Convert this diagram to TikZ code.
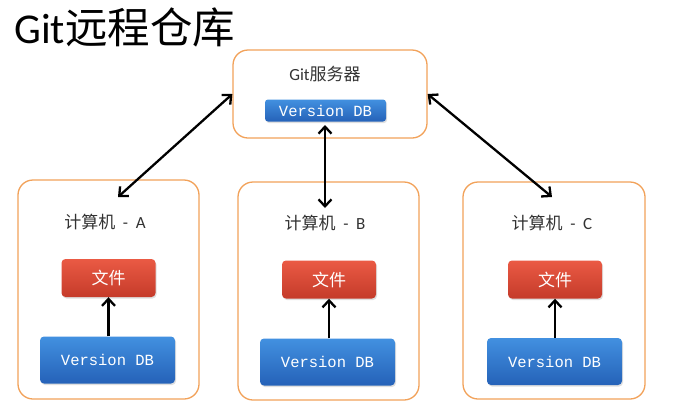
\documentclass[tikz,border=0pt]{standalone}
\usepackage{fontspec}
\setmainfont{Carlito}
\newfontfamily\cjk{Noto Sans CJK SC}
\newfontfamily\monof{Liberation Mono}
\usetikzlibrary{arrows.meta,shadows}
\definecolor{boxorange}{HTML}{F2A25A}
\definecolor{redtop}{HTML}{EA5A44}
\definecolor{redbot}{HTML}{C53B2A}
\definecolor{bluetop}{HTML}{4290E0}
\definecolor{bluebot}{HTML}{2562B8}
\definecolor{labelgray}{HTML}{333333}
\begin{document}
\begin{tikzpicture}[x=1pt,y=-1pt,
  frame/.style={draw=boxorange, line width=1.3pt, rounded corners=15pt, fill=white, inner sep=0pt},
  filebox/.style={rounded corners=4pt, top color=redtop, bottom color=redbot, draw=none,
    minimum width=94pt, minimum height=38pt, inner sep=0pt, text=white, font=\cjk\fontsize{17}{17}\selectfont,
    drop shadow={shadow xshift=1pt, shadow yshift=-1.5pt, opacity=0.25}},
  dbbox/.style={rounded corners=4pt, top color=bluetop, bottom color=bluebot, draw=none,
    minimum width=135pt, minimum height=47pt, inner sep=0pt, text=white, font=\monof\fontsize{15.5}{15.5}\selectfont,
    drop shadow={shadow xshift=1pt, shadow yshift=-1.5pt, opacity=0.25}},
  sdbbox/.style={dbbox, minimum width=121pt, minimum height=22pt, rounded corners=3pt},
  lbl/.style={text=labelgray, font=\fontsize{17}{17}\selectfont, inner sep=0pt},
  link/.style={black, line width=2.3pt, {Straight Barb[length=7pt,width=13pt]}-{Straight Barb[length=7pt,width=13pt]}},
  up/.style={black, line width=2.3pt, -{Straight Barb[length=7pt,width=13pt]}}
]
\useasboundingbox (0,0) rectangle (676,408);
\fill[white] (0,0) rectangle (676,408);

% title
\node[anchor=west, inner sep=0pt, font=\fontsize{42.5}{42.5}\selectfont] (title) at (14,27) {Git{\cjk 远程仓库}};

% server
\node[frame, minimum width=194pt, minimum height=88pt] (server) at (330,94) {};
\node[lbl] (serverlbl) at (325,74) {Git{\cjk 服务器}};
\node[sdbbox] (serverdb) at (325.5,110.5) {Version DB};

% machines
\node[frame, minimum width=181pt, minimum height=219pt] (ma) at (108.5,289.5) {};
\node[frame, minimum width=181pt, minimum height=218pt] (mb) at (328.5,291) {};
\node[frame, minimum width=182pt, minimum height=217pt] (mc) at (554,290.5) {};

\node[lbl] (la) at (105,222) {{\cjk 计算机}\hspace{0.45em}-\hspace{0.45em}A};
\node[lbl] (lb) at (325,223) {{\cjk 计算机}\hspace{0.45em}-\hspace{0.45em}B};
\node[lbl] (lc) at (552,223) {{\cjk 计算机}\hspace{0.45em}-\hspace{0.45em}C};

\node[filebox] (fa) at (108.5,278) {文件};
\node[filebox] (fb) at (329,279.5) {文件};
\node[filebox] (fc) at (555,279.5) {文件};

\node[dbbox] (da) at (107.5,360) {Version DB};
\node[dbbox] (db) at (327.5,362) {Version DB};
\node[dbbox] (dc) at (554.5,361.5) {Version DB};

% arrow ends inside machines
\coordinate (ta) at (118,197);
\coordinate (tb) at (325,208);
\coordinate (tc) at (552,197);
\coordinate (sb) at (325,125);

\draw[link] (server.west) -- (ta);
\draw[link] (server.east) -- (tc);
\draw[link] (sb) -- (tb);

\draw[up] (da.north -| fa.south) -- (fa.south);
\draw[up] (db.north -| fb.south) -- (fb.south);
\draw[up] (dc.north -| fc.south) -- (fc.south);
\end{tikzpicture}
\end{document}
